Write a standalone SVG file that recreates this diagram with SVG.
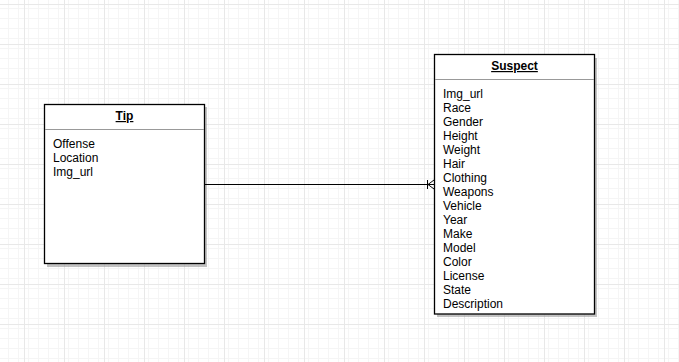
<svg xmlns="http://www.w3.org/2000/svg" width="679" height="362" viewBox="0 0 679 362">
  <defs>
    <pattern id="minorGrid" width="10" height="10" patternUnits="userSpaceOnUse" x="4" y="4">
      <path d="M0 0.5H10M0.5 0V10" fill="none" stroke="#f5f5f5" stroke-width="1"/>
    </pattern>
    <pattern id="majorGrid" width="40" height="40" patternUnits="userSpaceOnUse" x="24" y="4">
      <rect width="40" height="40" fill="url(#minorGrid)"/>
      <path d="M0 0.5H40M0.5 0V40" fill="none" stroke="#e8e8e8" stroke-width="1"/>
    </pattern>
    <style>
      .shadow { fill: #999; opacity: 0.6; }
      .box { fill: #fff; stroke: #000; stroke-width: 1.3; }
      .divider { stroke: #999; stroke-width: 1; }
      .title { font-family: "Liberation Sans", Arial, sans-serif; font-size: 12px; font-weight: bold; text-decoration: underline; text-anchor: middle; fill: #000; }
      .attr { font-family: "Liberation Sans", Arial, sans-serif; font-size: 12px; fill: #000; }
      .edge { fill: none; stroke: #000; stroke-width: 1; }
    </style>
  </defs>

  <rect width="679" height="362" fill="#fff"/>
  <rect width="679" height="362" fill="url(#majorGrid)"/>

  <!-- Tip entity -->
  <g id="tip">
    <rect class="shadow" x="47" y="107" width="160" height="160"/>
    <rect class="box" x="44.5" y="104.5" width="160" height="159"/>
    <line class="divider" x1="45" y1="129.5" x2="204" y2="129.5"/>
    <text class="title" x="124.5" y="120">Tip</text>
    <text class="attr" x="53" y="148">Offense</text>
    <text class="attr" x="53" y="162">Location</text>
    <text class="attr" x="53" y="176">Img_url</text>
  </g>

  <!-- Suspect entity -->
  <g id="suspect">
    <rect class="shadow" x="437" y="58" width="160" height="259"/>
    <rect class="box" x="434.5" y="54.5" width="160" height="259.5"/>
    <line class="divider" x1="435" y1="79.5" x2="594" y2="79.5"/>
    <text class="title" x="514.5" y="70">Suspect</text>
    <text class="attr" x="443" y="98">Img_url</text>
    <text class="attr" x="443" y="112">Race</text>
    <text class="attr" x="443" y="126">Gender</text>
    <text class="attr" x="443" y="140">Height</text>
    <text class="attr" x="443" y="154">Weight</text>
    <text class="attr" x="443" y="168">Hair</text>
    <text class="attr" x="443" y="182">Clothing</text>
    <text class="attr" x="443" y="196">Weapons</text>
    <text class="attr" x="443" y="210">Vehicle</text>
    <text class="attr" x="443" y="224">Year</text>
    <text class="attr" x="443" y="238">Make</text>
    <text class="attr" x="443" y="252">Model</text>
    <text class="attr" x="443" y="266">Color</text>
    <text class="attr" x="443" y="280">License</text>
    <text class="attr" x="443" y="294">State</text>
    <text class="attr" x="443" y="308">Description</text>
  </g>

  <!-- Relationship: one Tip to many Suspects -->
  <g id="connectors">
    <path class="edge" d="M205 184.5H434"/>
    <path class="edge" d="M427.5 180V189"/>
    <path class="edge" d="M428 184.5L434 180M428 184.5L434 189"/>
  </g>
</svg>
